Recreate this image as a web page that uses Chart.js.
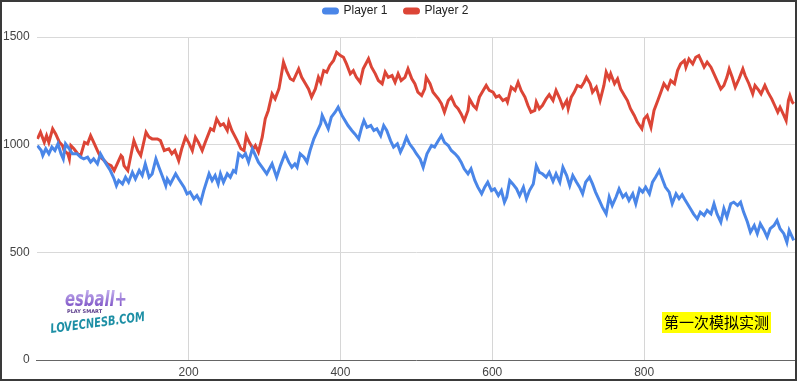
<!DOCTYPE html>
<html><head><meta charset="utf-8">
<script src="https://cdn.jsdelivr.net/npm/chart.js@4.4.1/dist/chart.umd.min.js"></script>
<style>html,body{margin:0;padding:0;background:#fff;overflow:hidden}#wrap{width:800px;height:381px;position:relative}</style>
</head><body><div id="wrap"><canvas id="c" width="800" height="381"></canvas></div>
<script>
const seriesNames = ['Player 1', 'Player 2'];
const xTicks = [200, 400, 600, 800];
const yTicks = [0, 500, 1000, 1500];

const p1X = [1,6,8,12,16,20,24,28,32,35,38,43,47,53,58,62,67,71,75,80,84,89,93,97,102,105,108,113,117,121,126,130,135,139,143,148,152,157,161,166,170,172,176,183,187,194,198,202,207,211,216,220,227,231,235,239,242,246,251,255,259,262,266,271,275,279,284,288,292,297,303,310,316,321,327,332,336,340,343,347,352,356,360,365,369,374,376,380,384,388,393,397,402,406,410,415,419,424,428,431,435,440,444,448,453,457,461,466,470,475,479,483,487,491,496,500,505,509,514,520,524,529,533,537,542,546,551,555,559,563,568,572,577,581,586,590,594,599,603,608,612,616,619,623,627,632,636,641,645,649,654,658,662,666,671,675,680,684,689,693,698,702,706,711,715,719,723,728,732,736,741,745,750,754,758,763,767,772,776,780,785,789,794,798,802,807,811,815,820,824,828,833,837,842,846,850,853,857,861,865,870,874,879,883,888,892,896,901,905,909,914,918,923,927,931,936,940,945,949,953,958,962,966,971,975,979,984,988,991,994,997];
const p1Y = [996,973,950,981,958,989,973,1004,958,934,1004,981,958,958,942,934,942,919,934,911,958,926,903,880,841,810,834,818,849,826,872,841,880,857,911,849,864,934,895,849,810,841,818,865,841,803,772,780,749,764,733,787,865,834,857,818,865,826,865,849,880,872,958,942,958,919,981,950,919,895,865,911,849,903,958,919,895,911,895,958,942,919,973,1027,1058,1097,1136,1105,1074,1128,1151,1174,1136,1112,1089,1066,1050,1027,1081,1112,1081,1089,1066,1074,1042,1089,1066,1019,989,1004,966,996,1035,1004,981,958,934,895,958,996,989,1019,1042,1011,996,973,958,942,919,888,865,888,834,803,772,803,826,787,795,764,787,733,757,834,818,795,764,803,749,787,818,903,872,865,849,872,830,865,826,895,857,810,857,826,803,772,826,849,818,780,741,710,679,757,718,757,795,757,772,741,772,726,795,780,803,772,826,849,880,841,803,780,726,772,750,768,749,726,703,679,656,687,672,695,679,726,679,641,703,664,726,733,718,733,687,641,594,625,587,633,602,571,610,625,648,610,587,547,602,579,556];

const p2X = [1,5,10,13,16,21,25,30,34,36,41,43,45,49,54,58,63,67,71,76,80,84,89,93,98,102,106,111,113,115,120,124,128,133,137,144,148,152,159,163,168,174,178,182,187,191,196,200,205,209,213,218,222,229,233,237,242,246,251,253,257,264,269,273,276,280,285,288,292,297,301,305,310,314,319,321,325,329,334,338,345,349,354,358,362,367,371,374,378,382,386,391,395,400,404,408,413,417,421,426,430,437,441,446,450,455,459,463,468,472,476,480,485,489,494,498,502,507,511,513,518,522,529,533,537,542,546,551,555,559,563,568,570,575,579,583,588,592,596,601,605,609,614,618,620,625,630,634,638,643,647,651,656,658,662,666,671,675,680,684,689,693,698,700,704,708,712,717,721,724,729,732,737,742,747,750,754,756,761,765,769,774,778,782,787,791,797,800,804,809,813,818,822,826,831,835,840,844,848,853,855,859,864,868,872,875,879,883,888,892,896,901,905,909,912,916,920,925,930,933,938,943,946,951,954,959,963,968,972,976,979,984,987,990,992,995,997];
const p2Y = [1027,1058,1011,1042,1011,1074,1050,1011,996,973,958,934,996,981,958,950,1011,1004,1042,1004,973,942,926,911,903,880,911,950,942,903,880,950,1019,973,950,1058,1035,1027,1027,1019,973,981,958,973,926,981,1035,1011,973,1035,1011,973,1011,1074,1066,1120,1089,1097,1066,1105,1066,1019,981,973,1042,1011,981,996,966,1035,1120,1159,1236,1213,1259,1298,1383,1344,1306,1298,1352,1313,1283,1259,1221,1259,1313,1290,1344,1337,1368,1391,1429,1414,1406,1375,1329,1344,1313,1290,1352,1399,1360,1329,1298,1283,1337,1313,1321,1290,1329,1298,1313,1352,1306,1283,1244,1228,1259,1313,1283,1244,1213,1190,1151,1205,1221,1182,1167,1143,1112,1159,1213,1182,1167,1221,1252,1275,1252,1244,1221,1228,1205,1213,1198,1267,1252,1290,1252,1221,1182,1151,1159,1198,1167,1182,1213,1232,1205,1252,1213,1174,1205,1167,1221,1244,1275,1267,1290,1313,1283,1244,1267,1205,1275,1337,1306,1329,1283,1306,1259,1228,1205,1167,1136,1105,1074,1120,1136,1081,1159,1205,1244,1283,1259,1298,1283,1344,1375,1391,1360,1398,1375,1406,1414,1391,1360,1383,1360,1329,1298,1259,1275,1313,1352,1313,1267,1306,1352,1321,1283,1236,1275,1252,1236,1275,1244,1213,1182,1151,1174,1136,1112,1205,1228,1198,1190];

const colors = ['#4a86e8', '#dc4536'];
const seriesX = [p1X, p2X];
const seriesY = [p1Y, p2Y];

const decor = {
  id: 'decor',
  afterDraw(chart) {
    const ctx = chart.ctx;
    ctx.save();
    const g = ctx.createLinearGradient(0, 290, 0, 308);
    g.addColorStop(0, '#c3b0ee');
    g.addColorStop(1, '#7b4fc4');
    ctx.fillStyle = g;
    ctx.font = 'italic bold 21px "DejaVu Sans"';
    ctx.textBaseline = 'alphabetic';
    ctx.textAlign = 'left';
    ctx.fillText('esball+', 65, 306, 62);
    ctx.fillStyle = '#5a3a8a';
    ctx.font = 'bold 5px "DejaVu Sans"';
    ctx.fillText('PLAY SMART', 67, 313, 42);
    ctx.translate(51, 333);
    ctx.rotate(-0.13);
    ctx.fillStyle = '#1d8fa5';
    ctx.font = 'italic bold 13px "DejaVu Sans Condensed"';
    ctx.fillText('LOVECNESB.COM', 0, 0, 95);
    ctx.restore();

    ctx.save();
    ctx.fillStyle = '#ffff00';
    ctx.fillRect(662, 312, 109, 21);
    ctx.fillStyle = '#000';
    ctx.font = '15px "Noto Sans CJK SC"';
    ctx.textAlign = 'center';
    ctx.textBaseline = 'middle';
    ctx.fillText('第一次模拟实测', 716.5, 322.5, 106);
    ctx.strokeStyle = '#3a3a3a';
    ctx.lineWidth = 2;
    ctx.strokeRect(1, 1, 795, 379);
    ctx.restore();
  }
};

new Chart(document.getElementById('c'), {
  type: 'line',
  data: {
    datasets: seriesNames.map((name, s) => ({
      label: name,
      data: seriesX[s].map((x, i) => ({ x: x, y: seriesY[s][i] })),
      borderColor: colors[s],
      backgroundColor: colors[s],
      borderWidth: 3,
      pointRadius: 0,
      tension: 0,
      fill: false
    }))
  },
  options: {
    responsive: false,
    animation: false,
    devicePixelRatio: 1,
    layout: { padding: { top: -12, left: -4, right: 4, bottom: -3.5 } },
    plugins: {
      legend: {
        position: 'top',
        labels: {
          boxWidth: 14, boxHeight: 4, useBorderRadius: true, borderRadius: 2,
          padding: 17, color: '#222',
          font: { family: 'Arial, "Liberation Sans"', size: 12 }
        }
      },
      title: { display: true, text: '', weight: 500, font: { size: 1 }, padding: { top: 0, bottom: 8.8 } },
      tooltip: { enabled: false }
    },
    scales: {
      x: {
        type: 'linear', min: 0, max: 1000,
        afterBuildTicks: (axis) => { axis.ticks = xTicks.map(v => ({ value: v })); },
        grid: { color: '#d6d6d6', drawTicks: false, lineWidth: 1 },
        border: { display: true, color: '#666', width: 1 },
        ticks: { padding: 5, color: '#444', font: { family: 'Arial, "Liberation Sans"', size: 12 }, maxRotation: 0, autoSkip: false, callback: (v) => String(v) }
      },
      y: {
        type: 'linear', min: 0, max: 1500,
        afterBuildTicks: (axis) => { axis.ticks = yTicks.map(v => ({ value: v })); },
        grid: { color: (c) => c.tick && c.tick.value === 0 ? 'rgba(0,0,0,0)' : '#d9d9d9', drawTicks: false },
        border: { display: false },
        ticks: { padding: 7, color: '#444', font: { family: 'Arial, "Liberation Sans"', size: 12 }, callback: (v) => String(v) }
      }
    }
  },
  plugins: [decor]
});
</script>
</body></html>
